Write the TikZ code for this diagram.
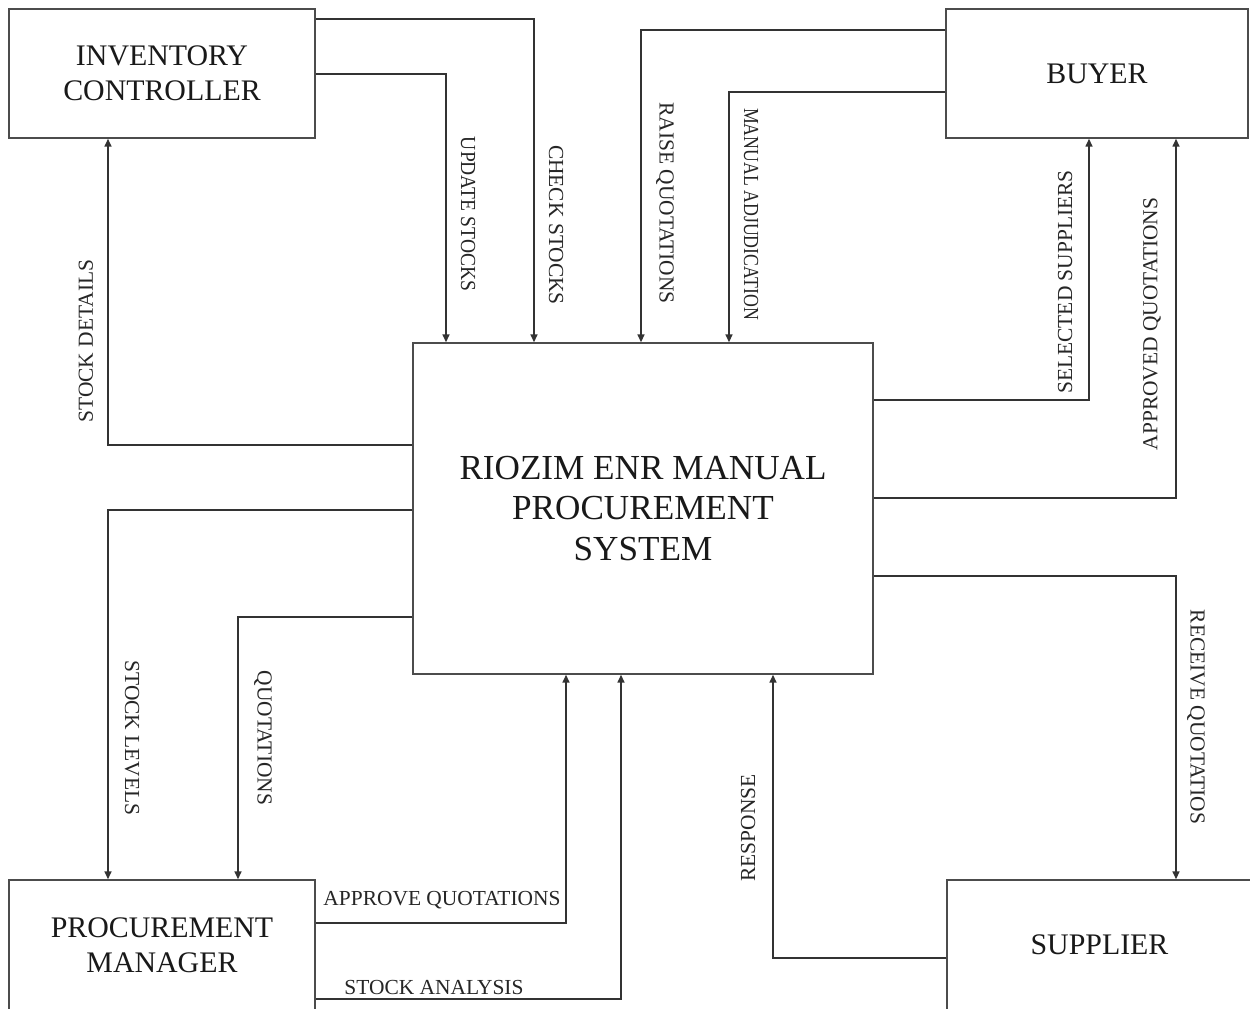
\documentclass[tikz,border=0pt]{standalone}
\usepackage{fontspec}
\setmainfont{Liberation Serif}
\usetikzlibrary{arrows.meta}
\begin{document}
\begin{tikzpicture}[x=0.02cm,y=-0.02cm,
  box/.style={draw=black!70, line width=0.9pt, inner sep=0pt, align=center, text=black!90, font=\fontsize{17}{19.8}\selectfont},
  arr/.style={draw=black!80, line width=0.8pt, -{Triangle[length=4.5pt,width=4pt]}},
  lbl/.style={inner sep=0pt, text=black!85, font=\fontsize{12.2}{14}\selectfont}]
\useasboundingbox (0,0) rectangle (1250,1008);
\fill[white] (0,0) rectangle (1250,1008);

% boxes
\node[box, minimum width=6.12cm, minimum height=2.58cm] (ic) at (162,73.5) {INVENTORY\\CONTROLLER};
\node[box, minimum width=6.04cm, minimum height=2.58cm] (buyer) at (1097,73.5) {BUYER};
\node[box, minimum width=9.2cm, minimum height=6.62cm, font=\fontsize{20}{23.2}\selectfont] (sys) at (643,508.5) {RIOZIM ENR MANUAL\\PROCUREMENT\\SYSTEM};
\node[box, minimum width=6.12cm, minimum height=2.6cm] (pm) at (162,945) {PROCUREMENT\\MANAGER};
\node[box, minimum width=6.1cm, minimum height=2.6cm] (sup) at (1099.5,945) {SUPPLIER};

% connectors
\draw[arr] (ic.east |- 0,74) -| (sys.north -| 446,0);
\draw[arr] (ic.east |- 0,19) -| (sys.north -| 534,0);
\draw[arr] (buyer.west |- 0,30) -| (sys.north -| 641,0);
\draw[arr] (buyer.west |- 0,92) -| (sys.north -| 729,0);
\draw[arr] (sys.west |- 0,445) -| (ic.south -| 108,0);
\draw[arr] (sys.east |- 0,400) -| (buyer.south -| 1089,0);
\draw[arr] (sys.east |- 0,498) -| (buyer.south -| 1176,0);
\draw[arr] (sys.west |- 0,510) -| (pm.north -| 108,0);
\draw[arr] (sys.west |- 0,617) -| (pm.north -| 238,0);
\draw[arr] (pm.east |- 0,923) -| (sys.south -| 566,0);
\draw[arr] (pm.east |- 0,999) -| (sys.south -| 621,0);
\draw[arr] (sup.west |- 0,958) -| (sys.south -| 773,0);
\draw[arr] (sys.east |- 0,576) -| (sup.north -| 1176,0);

% labels
\node[lbl, rotate=-90] (lupd) at (468,214) {\scalebox{0.91}[1]{UPDATE STOCKS}};
\node[lbl, rotate=-90] (lchk) at (556,225) {CHECK STOCKS};
\node[lbl, rotate=-90] (lraise) at (665,203) {RAISE QUOTATIONS};
\node[lbl, rotate=-90] (lman) at (751,214) {\scalebox{0.83}[1]{MANUAL ADJUDICATION}};
\node[lbl, rotate=90] (ldet) at (86,341) {STOCK DETAILS};
\node[lbl, rotate=90] (lsel) at (1065,282) {SELECTED SUPPLIERS};
\node[lbl, rotate=90] (lapp) at (1152,324) {APPROVED QUOTATIONS};
\node[lbl, rotate=-90] (llev) at (132,738) {STOCK LEVELS};
\node[lbl, rotate=-90] (lquo) at (263,738) {QUOTATIONS};
\node[lbl, rotate=90] (lres) at (748,828) {RESPONSE};
\node[lbl, rotate=-90] (lrec) at (1196,717) {RECEIVE QUOTATIOS};
\node[lbl] (lapq) at (442,900) {APPROVE QUOTATIONS};
\node[lbl] (lana) at (434,987) {STOCK ANALYSIS};
\end{tikzpicture}
\end{document}
